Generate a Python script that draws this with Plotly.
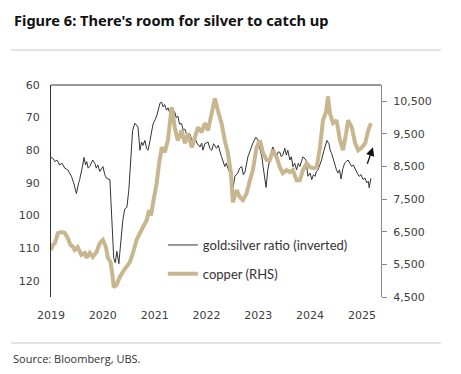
import plotly.graph_objects as go

# ---- data ----
ratio_dates = [
    "2019-01-01", "2019-01-15", "2019-01-29", "2019-02-12", "2019-03-03", "2019-03-20",
    "2019-04-08", "2019-04-29", "2019-05-12", "2019-05-25",
    "2019-06-10", "2019-06-29", "2019-07-15", "2019-07-22", "2019-08-06", "2019-08-22",
    "2019-09-01", "2019-09-10", "2019-09-20", "2019-10-01", "2019-10-22", "2019-11-06",
    "2019-11-16", "2019-11-27", "2019-12-11",
    "2020-01-02", "2020-01-15", "2020-01-28", "2020-02-20", "2020-03-02", "2020-03-11",
    "2020-03-18", "2020-03-29", "2020-04-09", "2020-04-23", "2020-05-07", "2020-05-21",
    "2020-06-04", "2020-06-19", "2020-07-03", "2020-07-10", "2020-07-22", "2020-07-29",
    "2020-08-14", "2020-08-25", "2020-09-05", "2020-09-19", "2020-10-01", "2020-10-10",
    "2020-10-24", "2020-11-05", "2020-11-15", "2020-11-29", "2020-12-10", "2020-12-20",
    "2021-01-05", "2021-01-15", "2021-02-08", "2021-02-20", "2021-03-01", "2021-03-12",
    "2021-03-25", "2021-04-05", "2021-04-17", "2021-04-28", "2021-05-08", "2021-05-22",
    "2021-06-01", "2021-06-13", "2021-06-25", "2021-07-09", "2021-07-20", "2021-08-02",
    "2021-08-16", "2021-09-06", "2021-09-20", "2021-10-11", "2021-10-25", "2021-11-16",
    "2021-11-28", "2021-12-07", "2021-12-20", "2022-01-12", "2022-01-25", "2022-02-07",
    "2022-02-20", "2022-03-12", "2022-03-25", "2022-04-05", "2022-04-17", "2022-05-10",
    "2022-05-20", "2022-06-01", "2022-06-15", "2022-06-25", "2022-07-06", "2022-07-20",
    "2022-08-10", "2022-08-22", "2022-09-06", "2022-09-18", "2022-09-29", "2022-10-20",
    "2022-11-03", "2022-11-14", "2022-11-24", "2022-12-15", "2022-12-30", "2023-01-12",
    "2023-01-26", "2023-02-04", "2023-02-15", "2023-02-25", "2023-03-09", "2023-03-22",
    "2023-04-05", "2023-04-14", "2023-04-26", "2023-05-10", "2023-05-22", "2023-06-02",
    "2023-06-12", "2023-06-23", "2023-07-07", "2023-07-18", "2023-07-28", "2023-08-12",
    "2023-08-22", "2023-09-02", "2023-09-15", "2023-09-28", "2023-10-10", "2023-10-21",
    "2023-11-01", "2023-11-12", "2023-12-03", "2023-12-17", "2024-01-01", "2024-01-13",
    "2024-01-25", "2024-02-05", "2024-02-15", "2024-02-26", "2024-03-10", "2024-03-22",
    "2024-04-05", "2024-04-15", "2024-04-29", "2024-05-13", "2024-05-22", "2024-06-01",
    "2024-06-12", "2024-06-25", "2024-07-05", "2024-07-16", "2024-07-27", "2024-08-06",
    "2024-08-20", "2024-09-01", "2024-09-11", "2024-09-25", "2024-10-08", "2024-10-21",
    "2024-11-01", "2024-11-14", "2024-11-28", "2024-12-12", "2024-12-25", "2025-01-09",
    "2025-01-22", "2025-02-04", "2025-02-14", "2025-02-21", "2025-03-05",
]
ratio_values = [
    82.2, 82.5, 83.5, 83.0, 84.5, 84.0,
    85.5, 86.0, 87.0, 88.0,
    90.0, 93.3, 90.0, 89.0, 86.0, 82.2,
    84.5, 83.5, 85.5, 85.0, 83.0, 84.0,
    85.5, 84.5, 86.5,
    85.0, 87.5, 88.6, 89.0, 97.5, 108.0,
    113.0, 114.5, 111.0, 114.8, 107.0, 101.5,
    98.0, 97.5, 92.0, 87.0, 76.0, 74.0,
    71.7, 72.5, 72.9, 80.0, 77.5, 78.5,
    77.0, 79.5, 80.0, 77.0, 74.5, 72.0,
    70.5, 69.5, 65.5, 65.3, 66.7, 66.0,
    67.7, 67.0, 68.6, 67.5, 68.5, 68.2,
    70.0, 69.5, 72.0, 71.8, 73.8, 73.5,
    75.5, 75.0, 77.0, 76.0, 77.8, 79.0,
    77.8, 80.0, 78.0, 77.5, 79.5, 80.0,
    78.0, 79.4, 78.5, 80.5, 82.0, 85.0,
    84.0, 85.5, 87.0, 86.0, 92.0, 88.0,
    87.0, 85.5, 85.0, 87.5, 86.7, 82.0,
    80.0, 79.0, 77.8, 76.0, 77.0, 79.5,
    82.0, 85.0, 88.0, 91.4, 86.0, 82.5,
    80.0, 79.0, 81.0, 82.0, 80.5, 80.6,
    82.0, 81.5, 79.4, 81.5, 80.0, 83.0,
    82.0, 85.0, 84.0, 86.0, 84.0, 85.0,
    83.5, 82.0, 83.0, 88.0, 87.0, 89.0,
    87.5, 88.0, 86.5, 86.0, 84.5, 83.0,
    80.5, 79.0, 77.0, 78.0, 80.0, 81.0,
    83.0, 84.5, 86.0, 87.0, 86.0, 88.8,
    85.5, 84.0, 83.5, 83.0, 84.0, 85.0,
    84.5, 86.0, 87.0, 88.0, 87.5, 89.0,
    88.5, 90.0, 89.5, 91.5, 88.6,
]

copper_dates = [
    "2019-01-01", "2019-01-15", "2019-01-29", "2019-02-19", "2019-03-15", "2019-04-08",
    "2019-04-29", "2019-05-18", "2019-06-03", "2019-06-17", "2019-07-08", "2019-08-03",
    "2019-08-27", "2019-09-08", "2019-10-01", "2019-10-22", "2019-11-18", "2019-12-11",
    "2020-01-02", "2020-01-23", "2020-02-06", "2020-02-25", "2020-03-09", "2020-03-18",
    "2020-04-07", "2020-04-16", "2020-04-30", "2020-05-21", "2020-06-17", "2020-07-10",
    "2020-08-01", "2020-08-26", "2020-09-19", "2020-10-10", "2020-11-06", "2020-11-22",
    "2020-12-06", "2020-12-20", "2021-01-15", "2021-02-01", "2021-02-08", "2021-02-20",
    "2021-03-13", "2021-04-04", "2021-04-17", "2021-04-30", "2021-05-08", "2021-05-22",
    "2021-06-13", "2021-07-09", "2021-08-02", "2021-08-23", "2021-09-19", "2021-10-11",
    "2021-11-02", "2021-11-28", "2021-12-21", "2022-01-12", "2022-02-07", "2022-03-01",
    "2022-03-22", "2022-04-17", "2022-05-10", "2022-06-01", "2022-06-22", "2022-07-06",
    "2022-08-01", "2022-08-24", "2022-09-15", "2022-10-11", "2022-11-03", "2022-11-24",
    "2022-12-20", "2023-01-13", "2023-02-04", "2023-03-01", "2023-03-23", "2023-04-14",
    "2023-05-10", "2023-06-02", "2023-06-23", "2023-07-19", "2023-08-12", "2023-09-02",
    "2023-09-28", "2023-10-21", "2023-11-12", "2023-12-08", "2024-01-01", "2024-01-22",
    "2024-02-17", "2024-03-11", "2024-04-01", "2024-04-22", "2024-05-06", "2024-05-20",
    "2024-06-11", "2024-07-06", "2024-07-30", "2024-08-20", "2024-09-11", "2024-09-25",
    "2024-10-21", "2024-11-14", "2024-12-05", "2025-01-01", "2025-01-24", "2025-02-14",
    "2025-03-05",
]
copper_values = [
    5940, 6100, 6155, 6460, 6490, 6460,
    6310, 6095, 6050, 5940, 6030, 5790,
    5850, 5700, 5850, 5730, 5880, 6155,
    6250, 6030, 5700, 5570, 5175, 4800,
    4870, 5000, 5115, 5270, 5420, 5570,
    5850, 6250, 6460, 6615, 6860, 7165,
    7000, 7380, 7990, 8600, 8800, 9090,
    8940, 9300, 9800, 10320, 10130, 9700,
    9300, 9610, 9215, 9520, 9090, 9400,
    9700, 9550, 9830, 9610, 10130, 10590,
    10225, 9830, 9300, 8910, 8300, 7400,
    7780, 7560, 7470, 7680, 8080, 8390,
    9090, 9300, 8910, 8700, 8700, 9000,
    8790, 8480, 8300, 8390, 8330, 8390,
    8080, 8080, 8390, 8600, 8480, 8450,
    8480, 9090, 9920, 10160, 10650, 10130,
    9830, 9920, 9300, 9000, 9520, 9920,
    9700, 9215, 9000, 9090, 9215, 9610,
    9830,
]

year_ticks = ["2019-01-01", "2020-01-01", "2021-01-01", "2022-01-01",
              "2023-01-01", "2024-01-01", "2025-01-01"]
year_labels = ["2019", "2020", "2021", "2022", "2023", "2024", "2025"]
left_ticks = [60, 70, 80, 90, 100, 110, 120]
right_ticks = [4500, 5500, 6500, 7500, 8500, 9500, 10500]
right_labels = ["4,500", "5,500", "6,500", "7,500", "8,500", "9,500", "10,500"]

# arrow annotation (tail -> head) in data units
arrow_tail = ("2025-02-04", 84.6)
arrow_head = ("2025-03-19", 79.1)

COPPER = "#C8B68E"
TICKFONT = dict(family="DejaVu Sans", size=11, color="#404040")

fig = go.Figure()
fig.add_trace(go.Scatter(
    x=copper_dates, y=copper_values, yaxis="y2", mode="lines",
    name="copper (RHS)", line=dict(color=COPPER, width=4),
    legendgroup="b", legendrank=2,
))
fig.add_trace(go.Scatter(
    x=ratio_dates, y=ratio_values, yaxis="y", mode="lines",
    name="gold:silver ratio (inverted)", line=dict(color="#333333", width=1),
    legendgroup="a", legendrank=1,
))

# page body adds an 8px margin, so the figure is 8px smaller and offset
fig.update_layout(
    width=453, height=366,
    margin=dict(l=43, r=80, t=77, b=77),
    paper_bgcolor="white", plot_bgcolor="white",
    showlegend=True,
    legend=dict(
        x=0.339, y=0.316, xanchor="left", yanchor="top",
        font=dict(family="Lato", size=13, color="#333333"),
        bgcolor="rgba(0,0,0,0)", traceorder="grouped", tracegroupgap=9,
    ),
    xaxis=dict(
        type="date", range=["2019-01-01", "2025-05-15"],
        tickvals=year_ticks, ticktext=year_labels,
        showgrid=False, zeroline=False, showline=False, ticks="",
        tickfont=TICKFONT, ticklabelstandoff=10,
    ),
    yaxis=dict(
        range=[125, 60], tickvals=left_ticks,
        showgrid=False, zeroline=False, showline=True,
        linecolor="#333333", linewidth=1, ticks="",
        tickfont=TICKFONT, ticklabelstandoff=8,
    ),
    yaxis2=dict(
        range=[4500, 11000], overlaying="y", side="right",
        tickvals=right_ticks, ticktext=right_labels,
        showgrid=False, zeroline=False, showline=True,
        linecolor="#888888", linewidth=1,
        ticks="outside", ticklen=5, tickcolor="#888888",
        tickfont=TICKFONT, ticklabelstandoff=4,
    ),
    shapes=[
        dict(type="line", xref="paper", yref="paper", x0=0, x1=1, y0=1, y1=1,
             line=dict(color="#333333", width=1)),
        dict(type="line", xref="paper", yref="paper", x0=-0.121, x1=1.182,
             y0=1.165, y1=1.165, line=dict(color="#C8C8C8", width=1)),
        dict(type="line", xref="paper", yref="paper", x0=-0.121, x1=1.182,
             y0=-0.217, y1=-0.217, line=dict(color="#C8C8C8", width=1)),
    ],
    annotations=[
        dict(text="<b>Figure 6: There's room for silver to catch up</b>",
             xref="paper", yref="paper", x=-0.118, y=1.362,
             xanchor="left", yanchor="top", showarrow=False,
             font=dict(family="Noto Sans", size=14.6, color="#111111")),
        dict(text="Source: Bloomberg, UBS.",
             xref="paper", yref="paper", x=-0.121, y=-0.288,
             xanchor="left", yanchor="middle", showarrow=False,
             font=dict(family="Open Sans", size=11, color="#333333")),
        dict(x=arrow_head[0], y=arrow_head[1], xref="x", yref="y",
             ax=arrow_tail[0], ay=arrow_tail[1], axref="x", ayref="y",
             text="", showarrow=True, arrowhead=2, arrowsize=1.3,
             arrowwidth=1.3, arrowcolor="#111111"),
    ],
)

fig.write_html("out.html")
